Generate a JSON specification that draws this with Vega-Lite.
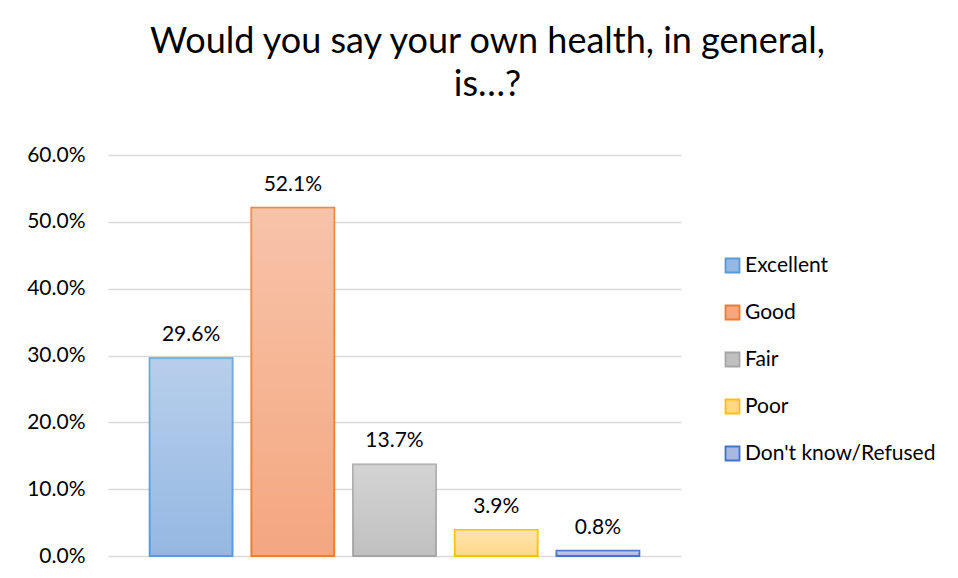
{
  "$schema": "https://vega.github.io/schema/vega-lite/v6.json",
  "width": 573,
  "height": 401,
  "autosize": {"type": "none"},
  "padding": {"left": 108, "top": 155, "right": 277, "bottom": 22},
  "background": "white",
  "config": {"view": {"stroke": null}},
  "title": {
    "text": ["Would you say your own health, in general,", "is…?"],
    "font": "Lato",
    "fontSize": 36,
    "fontWeight": "normal",
    "color": "#000000",
    "anchor": "middle",
    "dx": 93,
    "offset": 40,
    "lineHeight": 43
  },
  "data": {
    "values": [
      {"Category": "Excellent", "Pct": 0.296, "Label": "29.6%"},
      {"Category": "Good", "Pct": 0.521, "Label": "52.1%"},
      {"Category": "Fair", "Pct": 0.137, "Label": "13.7%"},
      {"Category": "Poor", "Pct": 0.039, "Label": "3.9%"},
      {"Category": "Don't know/Refused", "Pct": 0.008, "Label": "0.8%"}
    ]
  },
  "encoding": {
    "x": {
      "field": "Category",
      "type": "nominal",
      "sort": null,
      "axis": null,
      "scale": {"paddingInner": 0.186, "paddingOuter": 0.41}
    },
    "y": {
      "field": "Pct",
      "type": "quantitative",
      "scale": {"domain": [0, 0.6], "nice": false},
      "axis": {
        "title": null,
        "format": ".1%",
        "values": [0, 0.1, 0.2, 0.3, 0.4, 0.5, 0.6],
        "domain": false,
        "ticks": false,
        "labelPadding": 23,
        "labelFont": "Lato",
        "labelFontSize": 21,
        "labelColor": "#000000",
        "gridColor": "#d9d9d9",
        "gridWidth": 1.6
      }
    }
  },
  "layer": [
    {
      "mark": {"type": "bar", "strokeWidth": 2},
      "encoding": {
        "fill": {
          "field": "Category",
          "type": "nominal",
          "sort": null,
          "scale": {
            "domain": ["Excellent", "Good", "Fair", "Poor", "Don't know/Refused"],
            "range": ["#95b8e2", "#f4a780", "#c0c0c0", "#fed888", "#a9b8e2"]
          },
          "legend": {
            "title": null,
            "orient": "none",
            "legendX": 614,
            "legendY": 100,
            "symbolType": "square",
            "symbolSize": 196,
            "symbolStrokeWidth": 1.8,
            "labelFont": "Lato",
            "labelFontSize": 21,
            "labelColor": "#000000",
            "labelOffset": 2,
            "labelLimit": 400,
            "rowPadding": 24,
            "padding": 0
          }
        },
        "stroke": {
          "field": "Category",
          "type": "nominal",
          "sort": null,
          "scale": {
            "domain": ["Excellent", "Good", "Fair", "Poor", "Don't know/Refused"],
            "range": ["#5b9bd5", "#ed7d31", "#a5a5a5", "#ffc000", "#4472c4"]
          },
          "legend": {
            "title": null,
            "orient": "none",
            "legendX": 614,
            "legendY": 100,
            "symbolType": "square",
            "symbolSize": 196,
            "symbolStrokeWidth": 1.8,
            "labelFont": "Lato",
            "labelFontSize": 21,
            "labelColor": "#000000",
            "labelOffset": 2,
            "labelLimit": 400,
            "rowPadding": 24,
            "padding": 0
          }
        }
      }
    },
    {
      "mark": {
        "type": "bar",
        "strokeWidth": 0,
        "fill": {
          "gradient": "linear",
          "x1": 0, "y1": 0, "x2": 0, "y2": 1,
          "stops": [
            {"offset": 0, "color": "rgba(255,255,255,0.32)"},
            {"offset": 1, "color": "rgba(255,255,255,0)"}
          ]
        }
      },
      "encoding": {}
    },
    {
      "mark": {"type": "text", "baseline": "bottom", "dy": -13, "font": "Lato", "fontSize": 21, "color": "#000000"},
      "encoding": {
        "text": {"field": "Label", "type": "nominal"}
      }
    }
  ]
}
